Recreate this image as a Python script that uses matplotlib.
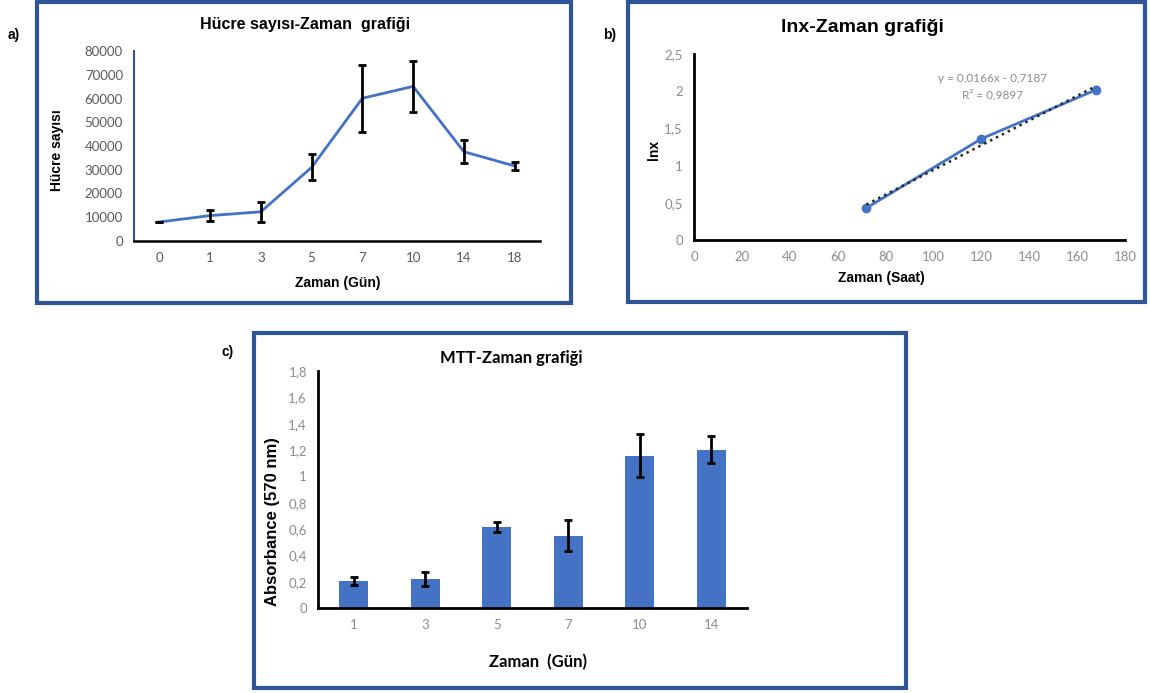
import matplotlib
matplotlib.use("Agg")
from matplotlib import pyplot as plt
from matplotlib.patches import Rectangle
from matplotlib.ticker import FuncFormatter
import numpy as np

plt.rcParams["font.family"] = ["Lato", "DejaVu Sans"]
ARIAL = ["Liberation Sans", "DejaVu Sans"]

# a) cell count vs time
days_a = ["0", "1", "3", "5", "7", "10", "14", "18"]
cells = [8000, 10700, 12300, 31000, 60100, 65100, 37600, 31600]
cells_err = [150, 2200, 4100, 5500, 14000, 10800, 4900, 1600]

# b) ln x vs time (hours)
hours = [72, 120, 168]
lnx = [0.43, 1.36, 2.02]
slope, intercept = 0.0166, -0.7187

# c) MTT absorbance
days_c = ["1", "3", "5", "7", "10", "14"]
absorb = [0.205, 0.222, 0.612, 0.549, 1.158, 1.203]
absorb_err = [0.029, 0.052, 0.038, 0.116, 0.162, 0.103]

W, H = 1150, 693
BLUE = "#4472C4"
FRAME = "#2F5597"
GREY = "#595959"
LIGHT = "#8C8C8C"


def fig_rect(x0, y0, x1, y1):
    # pixel box -> figure fraction [left, bottom, width, height]
    return [x0 / W, 1 - y1 / H, (x1 - x0) / W, (y1 - y0) / H]


def comma(v, pos):
    s = f"{v:g}"
    return s.replace(".", ",")


def style_axes(ax, tick_color=GREY):
    for side in ["top", "right"]:
        ax.spines[side].set_visible(False)
    ax.spines["left"].set_linewidth(1.5)
    ax.spines["bottom"].set_linewidth(1.8)
    ax.tick_params(length=0, colors=tick_color, labelsize=9.5, pad=8)


fig = plt.figure(figsize=(W / 100, H / 100), dpi=100)

for box in [(37, 2, 571, 303), (628, 2, 1145, 302), (254, 333, 906, 688)]:
    l, b, w, h = fig_rect(*box)
    fig.add_artist(Rectangle((l, b), w, h, transform=fig.transFigure,
                             fill=False, edgecolor=FRAME, linewidth=3))

fig.text(8 / W, 1 - 35 / H, "a)", fontsize=10, fontweight="bold", va="center", family=ARIAL)
fig.text(603 / W, 1 - 35 / H, "b)", fontsize=10, fontweight="bold", va="center", family=ARIAL)
fig.text(222 / W, 1 - 352 / H, "c)", fontsize=10, fontweight="bold", va="center", family=ARIAL)

# panel a
ax1 = fig.add_axes(fig_rect(134, 51, 540, 241))
x1 = np.arange(len(days_a))
ax1.plot(x1, cells, color=BLUE, linewidth=2)
ax1.errorbar(x1, cells, yerr=cells_err, fmt="none", ecolor="black",
             elinewidth=2, capsize=3, capthick=2)
ax1.set_xlim(-0.5, len(days_a) - 0.5)
ax1.set_ylim(0, 80000)
ax1.set_yticks(np.arange(0, 80001, 10000))
ax1.set_xticks(x1)
ax1.set_xticklabels(days_a)
style_axes(ax1)
ax1.spines["left"].set_color(FRAME)
fig.text(338 / W, 1 - 283 / H, "Zaman (Gün)", ha="center", va="center",
         fontsize=10, fontweight="bold", family=ARIAL)
fig.text(57 / W, 1 - 150 / H, "Hücre sayısı", ha="center", va="center",
         fontsize=10, fontweight="bold", rotation=90, family=ARIAL)
fig.text(305 / W, 1 - 24 / H, "Hücre sayısı-Zaman  grafiği", ha="center",
         va="center", fontsize=11.5, fontweight="bold", family=ARIAL)

# panel b
ax2 = fig.add_axes(fig_rect(694, 54, 1125, 240))
ax2.plot(hours, lnx, color=BLUE, linewidth=2, marker="o", markersize=6)
tx = np.array([hours[0], hours[-1]])
ax2.plot(tx, slope * tx + intercept, color="#262626", linestyle=":", linewidth=1.8)
ax2.set_xlim(0, 180)
ax2.set_ylim(0, 2.5)
ax2.set_xticks(np.arange(0, 181, 20))
ax2.set_yticks(np.arange(0, 2.51, 0.5))
ax2.yaxis.set_major_formatter(FuncFormatter(comma))
style_axes(ax2, LIGHT)
ax2.spines["left"].set_linewidth(2)
ax2.spines["bottom"].set_linewidth(2)
ax2.text(993 / W, 1 - 79 / H, "y = 0,0166x - 0,7187", transform=fig.transFigure,
         ha="center", va="center", fontsize=8.5, color=LIGHT)
ax2.text(993 / W, 1 - 95 / H, "R² = 0,9897", transform=fig.transFigure,
         ha="center", va="center", fontsize=8.5, color=LIGHT)
fig.text(881 / W, 1 - 278 / H, "Zaman (Saat)", ha="center", va="center",
         fontsize=10, fontweight="bold", family=ARIAL)
fig.text(654 / W, 1 - 150 / H, "lnx", ha="center", va="center",
         fontsize=10, fontweight="bold", rotation=90, family=ARIAL)
fig.text(862 / W, 1 - 27 / H, "lnx-Zaman grafiği", ha="center", va="center",
         fontsize=14, fontweight="bold", family=ARIAL)

# panel c
ax3 = fig.add_axes(fig_rect(318, 371, 747, 608))
x3 = np.arange(len(days_c))
ax3.bar(x3, absorb, width=0.4, color=BLUE)
ax3.errorbar(x3, absorb, yerr=absorb_err, fmt="none", ecolor="black",
             elinewidth=2, capsize=3, capthick=2)
ax3.set_xlim(-0.5, len(days_c) - 0.5)
ax3.set_ylim(0, 1.8)
ax3.set_yticks(np.arange(0, 1.81, 0.2))
ax3.yaxis.set_major_formatter(FuncFormatter(comma))
ax3.set_xticks(x3)
ax3.set_xticklabels(days_c)
style_axes(ax3, LIGHT)
ax3.spines["left"].set_linewidth(2)
ax3.spines["bottom"].set_linewidth(2)
fig.text(538 / W, 1 - 662 / H, "Zaman  (Gün)", ha="center", va="center",
         fontsize=12, fontweight="bold")
fig.text(272 / W, 1 - 522 / H, "Absorbance (570 nm)", ha="center", va="center",
         fontsize=12, fontweight="bold", rotation=90, family=ARIAL)
fig.text(511 / W, 1 - 358 / H, "MTT-Zaman grafiği", ha="center", va="center",
         fontsize=12, fontweight="bold")

fig.savefig("out.png", dpi=100)
